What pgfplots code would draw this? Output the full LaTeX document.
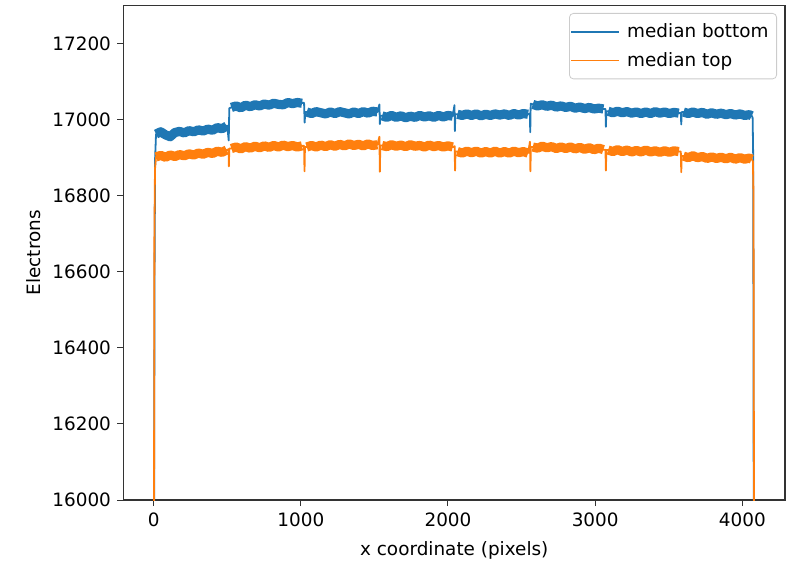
\documentclass[border=0pt]{standalone}
\usepackage{pgfplots}
\pgfplotsset{compat=1.18}
\usepackage{fontspec}
\setmainfont{DejaVu Sans}
\definecolor{mplblue}{HTML}{1F77B4}
\definecolor{mplorange}{HTML}{FF7F0E}

\begin{document}
\fontsize{9.2}{11}\selectfont
\begin{tikzpicture}
\begin{axis}[
    scale only axis,
    width=330.75pt, height=247.25pt,
    xmin=-205, xmax=4290,
    ymin=16000, ymax=17300,
    xtick={0,1000,2000,3000,4000},
    ytick={16000,16200,16400,16600,16800,17000,17200},
    scaled ticks=false,
    /pgf/number format/1000 sep={},
    /pgf/number format/assume math mode=true,
    tick pos=left, tick align=outside,
    major tick length=3pt,
    tick style={black!80, line width=0.5pt},
    axis line style={black!80, line width=0.6pt},
    every axis x label/.style={at={(rel axis cs:0.5,0)}, anchor=center, yshift=-25pt},
    every axis y label/.style={at={(rel axis cs:0,0.5)}, xshift=-45pt, rotate=90, anchor=center},
    xlabel={x coordinate (pixels)},
    ylabel={Electrons},
    unbounded coords=jump,
    legend cell align=left,
    legend image code/.code={\draw[#1] (0pt,0pt) -- (19.5pt,0pt); \path (0pt,0pt) -- (24pt,0pt);},
    legend style={draw=black!20, rounded corners=2pt,
        at={(rel axis cs:1,1)}, anchor=north east, xshift=-4pt, yshift=-3.75pt,
        inner xsep=0.5pt, inner ysep=3pt, row sep=2pt,
        nodes={inner xsep=3.5pt, inner ysep=2pt},
        font=\fontsize{9.2}{11}\selectfont},
]
\coordinate (bl) at (rel axis cs:0,0);
\coordinate (tr) at (rel axis cs:1,1);

% median bottom: edges, amplifier boundaries
\addplot[mplblue, line width=0.9pt, line join=round] coordinates {
(2,15800) (6,16600) (10,16900) (16,16962)
(500,16984) (510,16945) (514,17030) (528,17032)
(1008,17044) (1022,17044) (1026,16992) (1030,17020) (1040,17020)
(1520,17020) (1534,17040) (1537,16988) (1540,17010) (1552,17010)
(2032,17009) (2044,17038) (2047,16970) (2050,17014) (2064,17014)
(2544,17014) (2556,17016) (2559,16967) (2562,17042) (2576,17040)
(3056,17028) (3070,17028) (3073,16981) (3076,17022) (3088,17022)
(3568,17017) (3582,17018) (3585,16987) (3588,17020) (3600,17020)
(4064,17010) (4070,17005) (4074,16900) (4078,15800)
};
\addlegendentry{median bottom}
% median bottom: noisy band
\addplot[mplblue, line width=4.6pt, line join=round, forget plot] coordinates {
(16,16962) (48,16968) (80,16960) (112,16955) (144,16966) (176,16969) (208,16965) (240,16971)
(272,16968) (304,16973) (336,16970) (368,16975) (400,16972) (432,16979) (464,16976) (496,16983)
(512,nan)
(528,17032) (560,17036) (592,17031) (624,17038) (656,17034) (688,17039) (720,17036) (752,17041)
(784,17038) (816,17043) (848,17040) (880,17039) (912,17045) (944,17042) (976,17045) (1008,17043)
(1024,nan)
(1040,17020) (1072,17016) (1104,17021) (1136,17018) (1168,17015) (1200,17020) (1232,17016) (1264,17021)
(1296,17018) (1328,17015) (1360,17020) (1392,17016) (1424,17021) (1456,17017) (1488,17022) (1520,17020)
(1536,nan)
(1552,17010) (1584,17006) (1616,17011) (1648,17006) (1680,17010) (1712,17005) (1744,17009) (1776,17006)
(1808,17011) (1840,17007) (1872,17010) (1904,17006) (1936,17011) (1968,17007) (2000,17011) (2032,17009)
(2048,nan)
(2064,17014) (2096,17011) (2128,17015) (2160,17011) (2192,17015) (2224,17010) (2256,17014) (2288,17011)
(2320,17015) (2352,17012) (2384,17015) (2416,17011) (2448,17016) (2480,17012) (2512,17016) (2544,17014)
(2560,nan)
(2576,17040) (2608,17036) (2640,17039) (2672,17035) (2704,17038) (2736,17033) (2768,17036) (2800,17032)
(2832,17035) (2864,17030) (2896,17033) (2928,17029) (2960,17032) (2992,17028) (3024,17030) (3056,17028)
(3072,nan)
(3088,17022) (3120,17018) (3152,17022) (3184,17018) (3216,17021) (3248,17017) (3280,17020) (3312,17016)
(3344,17020) (3376,17016) (3408,17021) (3440,17017) (3472,17020) (3504,17016) (3536,17019) (3568,17017)
(3584,nan)
(3600,17020) (3632,17016) (3664,17020) (3696,17016) (3728,17019) (3760,17014) (3792,17018) (3824,17014)
(3856,17017) (3888,17013) (3920,17016) (3952,17012) (3984,17015) (4016,17011) (4048,17013) (4064,17010)
};

% median top: edges, amplifier boundaries
\addplot[mplorange, line width=0.9pt, line join=round] coordinates {
(2,15800) (5,16700) (9,16870) (16,16902)
(496,16920) (509,16922) (511,16877) (514,16924) (528,16924)
(1008,16931) (1022,16931) (1025,16864) (1028,16928) (1040,16928)
(1520,16934) (1534,16955) (1537,16863) (1540,16932) (1552,16932)
(2032,16928) (2045,16930) (2048,16866) (2051,16916) (2064,16916)
(2544,16912) (2557,16942) (2560,16864) (2563,16928) (2576,16928)
(3056,16921) (3070,16921) (3073,16866) (3076,16920) (3088,16920)
(3568,16916) (3582,16916) (3585,16862) (3588,16904) (3600,16904)
(4064,16896) (4072,16890) (4076,16800) (4080,15800)
};
\addlegendentry{median top}
% median top: noisy band
\addplot[mplorange, line width=4.6pt, line join=round, forget plot] coordinates {
(16,16902) (48,16906) (80,16901) (112,16907) (144,16903) (176,16908) (208,16905) (240,16910)
(272,16907) (304,16912) (336,16909) (368,16914) (400,16911) (432,16917) (464,16914) (496,16920)
(512,nan)
(528,16924) (560,16928) (592,16923) (624,16929) (656,16925) (688,16930) (720,16926) (752,16931)
(784,16927) (816,16932) (848,16928) (880,16933) (912,16929) (944,16932) (976,16928) (1008,16931)
(1024,nan)
(1040,16928) (1072,16932) (1104,16928) (1136,16933) (1168,16929) (1200,16934) (1232,16930) (1264,16935)
(1296,16931) (1328,16936) (1360,16932) (1392,16935) (1424,16931) (1456,16936) (1488,16932) (1520,16934)
(1536,nan)
(1552,16932) (1584,16929) (1616,16934) (1648,16930) (1680,16933) (1712,16929) (1744,16934) (1776,16930)
(1808,16932) (1840,16928) (1872,16933) (1904,16929) (1936,16932) (1968,16928) (2000,16931) (2032,16928)
(2048,nan)
(2064,16916) (2096,16912) (2128,16917) (2160,16913) (2192,16917) (2224,16912) (2256,16916) (2288,16912)
(2320,16917) (2352,16912) (2384,16916) (2416,16912) (2448,16917) (2480,16913) (2512,16916) (2544,16912)
(2560,nan)
(2576,16928) (2608,16925) (2640,16930) (2672,16926) (2704,16929) (2736,16924) (2768,16928) (2800,16924)
(2832,16928) (2864,16923) (2896,16927) (2928,16922) (2960,16926) (2992,16921) (3024,16925) (3056,16921)
(3072,nan)
(3088,16920) (3120,16916) (3152,16921) (3184,16916) (3216,16920) (3248,16915) (3280,16919) (3312,16915)
(3344,16920) (3376,16915) (3408,16918) (3440,16914) (3472,16918) (3504,16914) (3536,16918) (3568,16916)
(3584,nan)
(3600,16904) (3632,16900) (3664,16905) (3696,16900) (3728,16903) (3760,16898) (3792,16902) (3824,16898)
(3856,16901) (3888,16897) (3920,16901) (3952,16896) (3984,16900) (4016,16896) (4048,16899) (4064,16896)
};
\end{axis}
\pgfresetboundingbox
\path ([shift={(-61.75pt,-31.5pt)}]bl) rectangle ([shift={(1.5pt,2.75pt)}]tr);
\end{tikzpicture}
\end{document}
